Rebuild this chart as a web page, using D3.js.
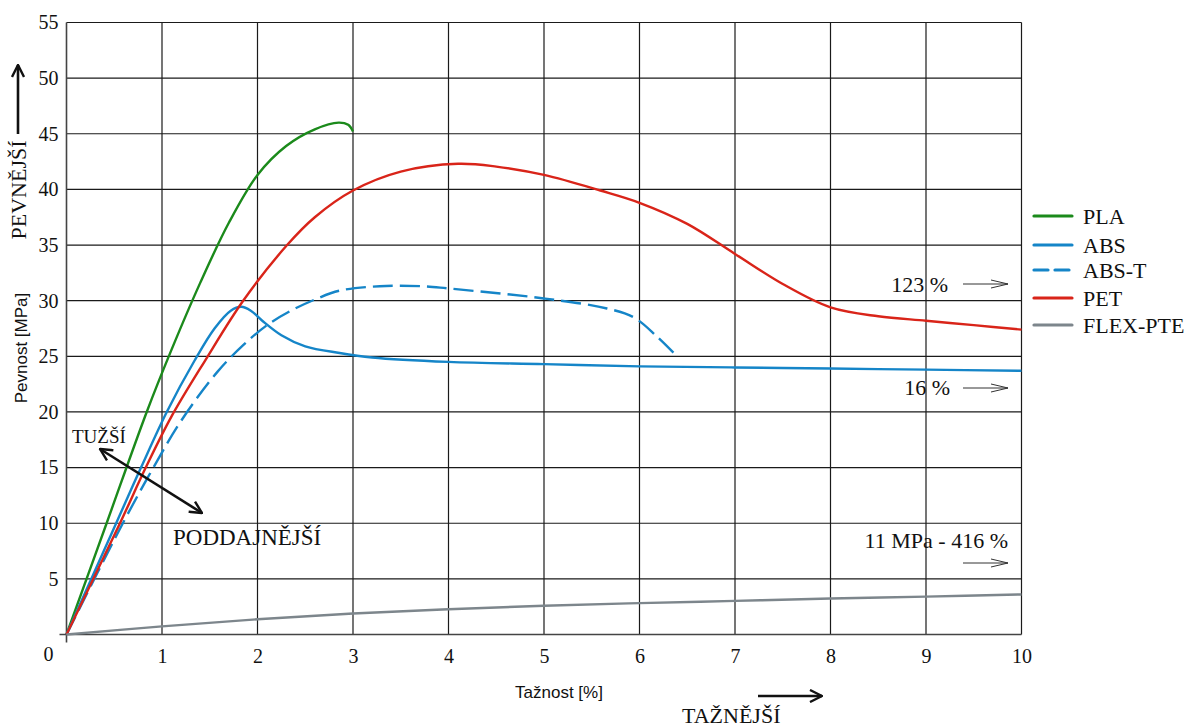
<!DOCTYPE html>
<html lang="cs">
<head>
<meta charset="utf-8">
<title>Pevnost a tažnost</title>
<script src="https://d3js.org/d3.v7.min.js"></script>
<style>
  body { margin: 0; background: #fff; }
  text { font-family: "Liberation Serif", "Times New Roman", serif; fill: #111; }
</style>
</head>
<body>
<script>
// tick values
const xTicks = [1, 2, 3, 4, 5, 6, 7, 8, 9, 10];
const yTicks = [5, 10, 15, 20, 25, 30, 35, 40, 45, 50, 55];

// curves [tažnost %, pevnost MPa]
const PLA = [[0,0],[0.42,10],[0.84,20],[1.1,25.6],[1.4,31.6],[1.7,37.0],[2.0,41.3],[2.3,43.9],[2.6,45.4],[2.85,46.0],[2.95,45.8],[3.0,45.2]];
const ABS = [[0,0],[0.52,10],[0.78,15],[1.05,20],[1.34,24.6],[1.55,27.5],[1.72,29.1],[1.83,29.45],[1.93,29.1],[2.05,28.2],[2.25,26.9],[2.5,25.9],[2.86,25.3],[3.2,24.9],[4,24.5],[5,24.3],[6,24.1],[7,24.0],[8,23.9],[9,23.8],[10,23.7]];
const ABST = [[0,0],[0.59,10],[0.91,15],[1.2,19.2],[1.58,23.6],[1.85,26.0],[2.1,27.8],[2.35,29.1],[2.6,30.1],[2.86,30.9],[3.28,31.3],[3.73,31.3],[4,31.1],[5,30.2],[5.66,29.3],[5.94,28.5],[6.18,26.8],[6.37,25.2]];
const PET = [[0,0],[0.56,10],[0.83,15],[1.1,19.6],[1.45,24.6],[1.85,30],[2.31,35],[2.6,37.5],[3.0,39.9],[3.5,41.6],[4.1,42.3],[4.5,42.05],[5,41.3],[5.59,39.9],[6,38.8],[6.5,36.9],[7,34.2],[7.5,31.5],[8,29.4],[8.5,28.6],[9,28.2],[9.5,27.8],[10,27.4]];
const FLEX = [[0,0],[1,0.73],[2,1.37],[3,1.89],[4,2.27],[5,2.59],[6,2.82],[7,3.02],[8,3.23],[9,3.4],[10,3.6]];

const seriesNames = ["PLA", "ABS", "ABS-T", "PET", "FLEX-PTE"];
const seriesData = [PLA, ABS, ABST, PET, FLEX];
const seriesColors = ["#1b8a1b", "#1585c8", "#1585c8", "#d92419", "#7d868c"];
const seriesDashed = [false, false, true, false, false];

// off-scale notes at the right edge
const notes = ["123 %", "16 %", "11 MPa - 416 %"];

const width = 1199, height = 727;

const x = d3.scaleLinear().domain([0, 10]).range([66.5, 1021.5]);
const y = d3.scaleLinear().domain([0, 55]).range([634.5, 22.5]);

const svg = d3.select("body").append("svg")
  .attr("width", width)
  .attr("height", height);

// arrow heads
const defs = svg.append("defs");
defs.append("marker")
  .attr("id", "head")
  .attr("markerUnits", "userSpaceOnUse")
  .attr("viewBox", "0 0 14 14")
  .attr("refX", 13).attr("refY", 7)
  .attr("markerWidth", 14).attr("markerHeight", 14)
  .attr("orient", "auto-start-reverse")
  .append("path")
  .attr("d", "M1,1 L13,7 L1,13")
  .attr("fill", "none").attr("stroke", "#111").attr("stroke-width", 2.4);
defs.append("marker")
  .attr("id", "thin")
  .attr("markerUnits", "userSpaceOnUse")
  .attr("viewBox", "0 0 18 10")
  .attr("refX", 17).attr("refY", 5)
  .attr("markerWidth", 18).attr("markerHeight", 10)
  .attr("orient", "auto")
  .append("path")
  .attr("d", "M0,1 L17,5 L0,9")
  .attr("fill", "none").attr("stroke", "#333").attr("stroke-width", 1);

// grid
const grid = svg.append("g").attr("stroke", "#1a1a1a").attr("stroke-width", 1.2);
grid.selectAll(".gx").data(xTicks).join("line")
  .attr("x1", d => x(d)).attr("x2", d => x(d))
  .attr("y1", y(0)).attr("y2", y(55));
grid.selectAll(".gy").data(yTicks).join("line")
  .attr("x1", x(0)).attr("x2", x(10))
  .attr("y1", d => y(d)).attr("y2", d => y(d));
// main axes, slightly overshooting the origin
grid.append("line")
  .attr("x1", x(0) - 7).attr("x2", x(10))
  .attr("y1", y(0)).attr("y2", y(0)).attr("stroke", "#444").attr("stroke-width", 1.6);
grid.append("line")
  .attr("x1", x(0)).attr("x2", x(0))
  .attr("y1", y(0) + 8).attr("y2", y(55)).attr("stroke", "#444").attr("stroke-width", 1.6);

// tick labels
const yAxis = svg.append("g")
  .attr("transform", `translate(${x(0)},0)`)
  .call(d3.axisLeft(y).tickValues(yTicks).tickSize(0).tickPadding(8));
const xAxis = svg.append("g")
  .attr("transform", `translate(0,${y(0)})`)
  .call(d3.axisBottom(x).tickValues(xTicks).tickSize(0).tickPadding(14));
[xAxis, yAxis].forEach(a => {
  a.select(".domain").remove();
  a.selectAll("text")
    .style("font-family", '"Liberation Serif", serif')
    .attr("font-size", 20)
    .attr("fill", "#111");
});
svg.append("text")
  .attr("x", x(0) - 18).attr("y", y(0) + 26)
  .attr("text-anchor", "middle")
  .attr("font-size", 20)
  .text("0");

// curves
const line = d3.line()
  .x(d => x(d[0]))
  .y(d => y(d[1]))
  .curve(d3.curveCatmullRom.alpha(0.5));

svg.append("g").selectAll("path")
  .data(seriesData)
  .join("path")
  .attr("d", line)
  .attr("fill", "none")
  .attr("stroke", (d, i) => seriesColors[i])
  .attr("stroke-width", 2.4)
  .attr("stroke-dasharray", (d, i) => seriesDashed[i] ? "20,7" : null);

// legend
const legendY = [216, 245, 270, 298, 325];
const legend = svg.append("g");
seriesNames.forEach((name, i) => {
  legend.append("line")
    .attr("x1", 1034).attr("x2", 1072)
    .attr("y1", legendY[i]).attr("y2", legendY[i])
    .attr("stroke", seriesColors[i])
    .attr("stroke-width", 3.2)
    .attr("stroke-linecap", "round")
    .attr("stroke-dasharray", seriesDashed[i] ? "14,7" : null);
  legend.append("text")
    .attr("x", 1083).attr("y", legendY[i] + 7.5)
    .attr("font-size", 22)
    .text(name);
});

// notes for values beyond the axis
const noteY = [292, 395, 548];
const noteX = [948, 950, 1008];
const noteArrowY = [284, 388, 563];
notes.forEach((t, i) => {
  svg.append("text")
    .attr("x", noteX[i]).attr("y", noteY[i])
    .attr("text-anchor", "end")
    .attr("font-size", 22)
    .text(t);
  svg.append("line")
    .attr("x1", 963).attr("x2", 1008)
    .attr("y1", noteArrowY[i]).attr("y2", noteArrowY[i])
    .attr("stroke", "#333").attr("stroke-width", 1)
    .attr("marker-end", "url(#thin)");
});

// axis titles
svg.append("text")
  .attr("transform", "translate(27,348) rotate(-90)")
  .attr("text-anchor", "middle")
  .style("font-family", '"Liberation Sans", Arial, sans-serif')
  .attr("font-size", 17)
  .text("Pevnost [MPa]");
svg.append("text")
  .attr("x", 559).attr("y", 698)
  .attr("text-anchor", "middle")
  .style("font-family", '"Liberation Sans", Arial, sans-serif')
  .attr("font-size", 17)
  .text("Tažnost [%]");

// direction hints
const arrowStyle = sel => sel.attr("stroke", "#111").attr("stroke-width", 2.6).attr("fill", "none");

svg.append("text")
  .attr("transform", "translate(26,190) rotate(-90)")
  .attr("text-anchor", "middle")
  .attr("font-size", 22)
  .text("PEVNĚJŠÍ");
svg.append("line")
  .attr("x1", 18).attr("x2", 18).attr("y1", 134).attr("y2", 65)
  .call(arrowStyle).attr("marker-end", "url(#head)");

svg.append("text")
  .attr("x", 72).attr("y", 443)
  .attr("font-size", 19)
  .text("TUŽŠÍ");
svg.append("line")
  .attr("x1", 100).attr("y1", 449).attr("x2", 202).attr("y2", 513)
  .call(arrowStyle)
  .attr("marker-start", "url(#head)")
  .attr("marker-end", "url(#head)");

svg.append("text")
  .attr("x", 173).attr("y", 545)
  .attr("font-size", 23)
  .text("PODDAJNĚJŠÍ");

svg.append("text")
  .attr("x", 682).attr("y", 723)
  .attr("font-size", 22)
  .text("TAŽNĚJŠÍ");
svg.append("line")
  .attr("x1", 758).attr("x2", 822).attr("y1", 696).attr("y2", 696)
  .call(arrowStyle).attr("marker-end", "url(#head)");
</script>
</body>
</html>
